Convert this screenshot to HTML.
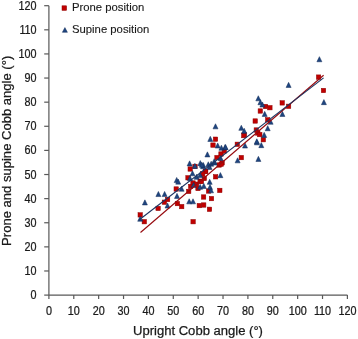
<!DOCTYPE html>
<html><head><meta charset="utf-8"><style>
html,body{margin:0;padding:0;background:#fff;}
svg{display:block;filter:blur(0.3px);}
text{font-family:"Liberation Sans",sans-serif;fill:#1a1a1a;stroke:#1a1a1a;stroke-width:0.25px;}
.tk{font-size:12px;}
.lg{font-size:11.3px;stroke-width:0.12px;}
.ti{font-size:13.05px;}
.sq{fill:#C00000;stroke:#8E0000;stroke-width:0.5;}
.tr{fill:#1E4580;stroke:#132C58;stroke-width:0.5;}
</style></head><body>
<svg width="358" height="339" viewBox="0 0 358 339">
<line x1="48.9" y1="5.7" x2="48.9" y2="295.1" stroke="#585858" stroke-width="1.2"/>
<line x1="48.9" y1="295.1" x2="347.4" y2="295.1" stroke="#585858" stroke-width="1.2"/>
<line x1="44.2" y1="295.10" x2="48.9" y2="295.10" stroke="#585858" stroke-width="1.2"/>
<line x1="48.90" y1="295.1" x2="48.90" y2="299" stroke="#585858" stroke-width="1.2"/>
<line x1="44.2" y1="270.98" x2="48.9" y2="270.98" stroke="#585858" stroke-width="1.2"/>
<line x1="73.78" y1="295.1" x2="73.78" y2="299" stroke="#585858" stroke-width="1.2"/>
<line x1="44.2" y1="246.87" x2="48.9" y2="246.87" stroke="#585858" stroke-width="1.2"/>
<line x1="98.65" y1="295.1" x2="98.65" y2="299" stroke="#585858" stroke-width="1.2"/>
<line x1="44.2" y1="222.75" x2="48.9" y2="222.75" stroke="#585858" stroke-width="1.2"/>
<line x1="123.53" y1="295.1" x2="123.53" y2="299" stroke="#585858" stroke-width="1.2"/>
<line x1="44.2" y1="198.63" x2="48.9" y2="198.63" stroke="#585858" stroke-width="1.2"/>
<line x1="148.40" y1="295.1" x2="148.40" y2="299" stroke="#585858" stroke-width="1.2"/>
<line x1="44.2" y1="174.52" x2="48.9" y2="174.52" stroke="#585858" stroke-width="1.2"/>
<line x1="173.28" y1="295.1" x2="173.28" y2="299" stroke="#585858" stroke-width="1.2"/>
<line x1="44.2" y1="150.40" x2="48.9" y2="150.40" stroke="#585858" stroke-width="1.2"/>
<line x1="198.15" y1="295.1" x2="198.15" y2="299" stroke="#585858" stroke-width="1.2"/>
<line x1="44.2" y1="126.28" x2="48.9" y2="126.28" stroke="#585858" stroke-width="1.2"/>
<line x1="223.03" y1="295.1" x2="223.03" y2="299" stroke="#585858" stroke-width="1.2"/>
<line x1="44.2" y1="102.17" x2="48.9" y2="102.17" stroke="#585858" stroke-width="1.2"/>
<line x1="247.90" y1="295.1" x2="247.90" y2="299" stroke="#585858" stroke-width="1.2"/>
<line x1="44.2" y1="78.05" x2="48.9" y2="78.05" stroke="#585858" stroke-width="1.2"/>
<line x1="272.77" y1="295.1" x2="272.77" y2="299" stroke="#585858" stroke-width="1.2"/>
<line x1="44.2" y1="53.93" x2="48.9" y2="53.93" stroke="#585858" stroke-width="1.2"/>
<line x1="297.65" y1="295.1" x2="297.65" y2="299" stroke="#585858" stroke-width="1.2"/>
<line x1="44.2" y1="29.82" x2="48.9" y2="29.82" stroke="#585858" stroke-width="1.2"/>
<line x1="322.52" y1="295.1" x2="322.52" y2="299" stroke="#585858" stroke-width="1.2"/>
<line x1="44.2" y1="5.70" x2="48.9" y2="5.70" stroke="#585858" stroke-width="1.2"/>
<line x1="347.40" y1="295.1" x2="347.40" y2="299" stroke="#585858" stroke-width="1.2"/>
<text transform="translate(36.6 299.10) scale(0.9 1)" text-anchor="end" class="tk">0</text>
<text transform="translate(48.90 314.8) scale(0.9 1)" text-anchor="middle" class="tk">0</text>
<text transform="translate(36.6 274.98) scale(0.9 1)" text-anchor="end" class="tk">10</text>
<text transform="translate(73.78 314.8) scale(0.9 1)" text-anchor="middle" class="tk">10</text>
<text transform="translate(36.6 250.87) scale(0.9 1)" text-anchor="end" class="tk">20</text>
<text transform="translate(98.65 314.8) scale(0.9 1)" text-anchor="middle" class="tk">20</text>
<text transform="translate(36.6 226.75) scale(0.9 1)" text-anchor="end" class="tk">30</text>
<text transform="translate(123.53 314.8) scale(0.9 1)" text-anchor="middle" class="tk">30</text>
<text transform="translate(36.6 202.63) scale(0.9 1)" text-anchor="end" class="tk">40</text>
<text transform="translate(148.40 314.8) scale(0.9 1)" text-anchor="middle" class="tk">40</text>
<text transform="translate(36.6 178.52) scale(0.9 1)" text-anchor="end" class="tk">50</text>
<text transform="translate(173.28 314.8) scale(0.9 1)" text-anchor="middle" class="tk">50</text>
<text transform="translate(36.6 154.40) scale(0.9 1)" text-anchor="end" class="tk">60</text>
<text transform="translate(198.15 314.8) scale(0.9 1)" text-anchor="middle" class="tk">60</text>
<text transform="translate(36.6 130.28) scale(0.9 1)" text-anchor="end" class="tk">70</text>
<text transform="translate(223.03 314.8) scale(0.9 1)" text-anchor="middle" class="tk">70</text>
<text transform="translate(36.6 106.17) scale(0.9 1)" text-anchor="end" class="tk">80</text>
<text transform="translate(247.90 314.8) scale(0.9 1)" text-anchor="middle" class="tk">80</text>
<text transform="translate(36.6 82.05) scale(0.9 1)" text-anchor="end" class="tk">90</text>
<text transform="translate(272.77 314.8) scale(0.9 1)" text-anchor="middle" class="tk">90</text>
<text transform="translate(36.6 57.93) scale(0.9 1)" text-anchor="end" class="tk">100</text>
<text transform="translate(297.65 314.8) scale(0.9 1)" text-anchor="middle" class="tk">100</text>
<text transform="translate(36.6 33.82) scale(0.9 1)" text-anchor="end" class="tk">110</text>
<text transform="translate(322.52 314.8) scale(0.9 1)" text-anchor="middle" class="tk">110</text>
<text transform="translate(36.6 9.70) scale(0.9 1)" text-anchor="end" class="tk">120</text>
<text transform="translate(347.40 314.8) scale(0.9 1)" text-anchor="middle" class="tk">120</text>
<rect x="138.00" y="212.70" width="4.4" height="4.4" class="sq"/>
<rect x="142.10" y="219.50" width="4.4" height="4.4" class="sq"/>
<rect x="155.90" y="206.20" width="4.4" height="4.4" class="sq"/>
<rect x="162.20" y="200.00" width="4.4" height="4.4" class="sq"/>
<rect x="165.40" y="197.30" width="4.4" height="4.4" class="sq"/>
<rect x="175.20" y="201.40" width="4.4" height="4.4" class="sq"/>
<rect x="179.50" y="204.40" width="4.4" height="4.4" class="sq"/>
<rect x="174.00" y="186.80" width="4.4" height="4.4" class="sq"/>
<rect x="186.50" y="189.20" width="4.4" height="4.4" class="sq"/>
<rect x="197.10" y="203.40" width="4.4" height="4.4" class="sq"/>
<rect x="201.50" y="202.80" width="4.4" height="4.4" class="sq"/>
<rect x="207.30" y="207.10" width="4.4" height="4.4" class="sq"/>
<rect x="190.90" y="219.50" width="4.4" height="4.4" class="sq"/>
<rect x="209.30" y="196.40" width="4.4" height="4.4" class="sq"/>
<rect x="201.40" y="194.80" width="4.4" height="4.4" class="sq"/>
<rect x="206.40" y="188.80" width="4.4" height="4.4" class="sq"/>
<rect x="217.60" y="188.20" width="4.4" height="4.4" class="sq"/>
<rect x="213.40" y="174.60" width="4.4" height="4.4" class="sq"/>
<rect x="188.00" y="166.80" width="4.4" height="4.4" class="sq"/>
<rect x="185.80" y="175.60" width="4.4" height="4.4" class="sq"/>
<rect x="190.80" y="180.80" width="4.4" height="4.4" class="sq"/>
<rect x="194.40" y="182.00" width="4.4" height="4.4" class="sq"/>
<rect x="197.90" y="179.00" width="4.4" height="4.4" class="sq"/>
<rect x="188.50" y="184.30" width="4.4" height="4.4" class="sq"/>
<rect x="195.80" y="186.30" width="4.4" height="4.4" class="sq"/>
<rect x="199.30" y="179.30" width="4.4" height="4.4" class="sq"/>
<rect x="202.10" y="176.30" width="4.4" height="4.4" class="sq"/>
<rect x="203.50" y="169.30" width="4.4" height="4.4" class="sq"/>
<rect x="192.80" y="164.20" width="4.4" height="4.4" class="sq"/>
<rect x="210.80" y="142.90" width="4.4" height="4.4" class="sq"/>
<rect x="213.30" y="137.00" width="4.4" height="4.4" class="sq"/>
<rect x="218.80" y="151.80" width="4.4" height="4.4" class="sq"/>
<rect x="222.10" y="148.80" width="4.4" height="4.4" class="sq"/>
<rect x="214.80" y="155.40" width="4.4" height="4.4" class="sq"/>
<rect x="219.90" y="160.60" width="4.4" height="4.4" class="sq"/>
<rect x="217.00" y="162.80" width="4.4" height="4.4" class="sq"/>
<rect x="235.10" y="142.10" width="4.4" height="4.4" class="sq"/>
<rect x="242.00" y="132.50" width="4.4" height="4.4" class="sq"/>
<rect x="239.10" y="155.40" width="4.4" height="4.4" class="sq"/>
<rect x="263.30" y="104.30" width="4.4" height="4.4" class="sq"/>
<rect x="267.70" y="105.50" width="4.4" height="4.4" class="sq"/>
<rect x="258.10" y="108.80" width="4.4" height="4.4" class="sq"/>
<rect x="280.00" y="100.70" width="4.4" height="4.4" class="sq"/>
<rect x="286.40" y="104.10" width="4.4" height="4.4" class="sq"/>
<rect x="253.00" y="118.80" width="4.4" height="4.4" class="sq"/>
<rect x="265.50" y="117.60" width="4.4" height="4.4" class="sq"/>
<rect x="254.10" y="127.80" width="4.4" height="4.4" class="sq"/>
<rect x="255.60" y="130.80" width="4.4" height="4.4" class="sq"/>
<rect x="316.40" y="74.90" width="4.4" height="4.4" class="sq"/>
<rect x="321.30" y="88.30" width="4.4" height="4.4" class="sq"/>
<rect x="261.10" y="137.50" width="4.4" height="4.4" class="sq"/>
<rect x="257.60" y="132.40" width="4.4" height="4.4" class="sq"/>
<rect x="241.70" y="133.40" width="4.4" height="4.4" class="sq"/>
<rect x="203.10" y="169.00" width="4.4" height="4.4" class="sq"/>
<rect x="200.50" y="171.70" width="4.4" height="4.4" class="sq"/>
<rect x="219.00" y="162.00" width="4.4" height="4.4" class="sq"/>
<path d="M144.90 199.85L147.40 204.95L142.40 204.95Z" class="tr"/>
<path d="M140.20 216.15L142.70 221.25L137.70 221.25Z" class="tr"/>
<path d="M158.40 191.45L160.90 196.55L155.90 196.55Z" class="tr"/>
<path d="M164.60 191.45L167.10 196.55L162.10 196.55Z" class="tr"/>
<path d="M167.50 202.95L170.00 208.05L165.00 208.05Z" class="tr"/>
<path d="M189.20 198.75L191.70 203.85L186.70 203.85Z" class="tr"/>
<path d="M193.00 198.75L195.50 203.85L190.50 203.85Z" class="tr"/>
<path d="M176.70 177.45L179.20 182.55L174.20 182.55Z" class="tr"/>
<path d="M178.20 179.05L180.70 184.15L175.70 184.15Z" class="tr"/>
<path d="M177.00 193.35L179.50 198.45L174.50 198.45Z" class="tr"/>
<path d="M181.60 186.15L184.10 191.25L179.10 191.25Z" class="tr"/>
<path d="M189.60 160.85L192.10 165.95L187.10 165.95Z" class="tr"/>
<path d="M194.90 163.35L197.40 168.45L192.40 168.45Z" class="tr"/>
<path d="M200.30 160.55L202.80 165.65L197.80 165.65Z" class="tr"/>
<path d="M203.00 163.65L205.50 168.75L200.50 168.75Z" class="tr"/>
<path d="M208.30 161.75L210.80 166.85L205.80 166.85Z" class="tr"/>
<path d="M203.30 162.45L205.80 167.55L200.80 167.55Z" class="tr"/>
<path d="M211.20 161.15L213.70 166.25L208.70 166.25Z" class="tr"/>
<path d="M192.50 170.75L195.00 175.85L190.00 175.85Z" class="tr"/>
<path d="M190.00 175.65L192.50 180.75L187.50 180.75Z" class="tr"/>
<path d="M196.60 174.25L199.10 179.35L194.10 179.35Z" class="tr"/>
<path d="M200.10 172.45L202.60 177.55L197.60 177.55Z" class="tr"/>
<path d="M193.60 182.45L196.10 187.55L191.10 187.55Z" class="tr"/>
<path d="M200.10 184.25L202.60 189.35L197.60 189.35Z" class="tr"/>
<path d="M209.70 179.25L212.20 184.35L207.20 184.35Z" class="tr"/>
<path d="M210.00 184.35L212.50 189.45L207.50 189.45Z" class="tr"/>
<path d="M211.00 187.75L213.50 192.85L208.50 192.85Z" class="tr"/>
<path d="M203.80 183.35L206.30 188.45L201.30 188.45Z" class="tr"/>
<path d="M220.40 172.55L222.90 177.65L217.90 177.65Z" class="tr"/>
<path d="M215.50 123.75L218.00 128.85L213.00 128.85Z" class="tr"/>
<path d="M210.30 136.35L212.80 141.45L207.80 141.45Z" class="tr"/>
<path d="M217.70 142.95L220.20 148.05L215.20 148.05Z" class="tr"/>
<path d="M221.40 145.15L223.90 150.25L218.90 150.25Z" class="tr"/>
<path d="M225.10 144.45L227.60 149.55L222.60 149.55Z" class="tr"/>
<path d="M207.40 151.85L209.90 156.95L204.90 156.95Z" class="tr"/>
<path d="M220.60 155.45L223.10 160.55L218.10 160.55Z" class="tr"/>
<path d="M214.70 159.95L217.20 165.05L212.20 165.05Z" class="tr"/>
<path d="M209.60 164.35L212.10 169.45L207.10 169.45Z" class="tr"/>
<path d="M241.30 125.25L243.80 130.35L238.80 130.35Z" class="tr"/>
<path d="M244.20 128.25L246.70 133.35L241.70 133.35Z" class="tr"/>
<path d="M245.00 142.95L247.50 148.05L242.50 148.05Z" class="tr"/>
<path d="M237.60 157.75L240.10 162.85L235.10 162.85Z" class="tr"/>
<path d="M288.60 82.35L291.10 87.45L286.10 87.45Z" class="tr"/>
<path d="M258.30 95.75L260.80 100.85L255.80 100.85Z" class="tr"/>
<path d="M260.40 99.65L262.90 104.75L257.90 104.75Z" class="tr"/>
<path d="M262.40 101.95L264.90 107.05L259.90 107.05Z" class="tr"/>
<path d="M264.70 111.35L267.20 116.45L262.20 116.45Z" class="tr"/>
<path d="M282.40 111.35L284.90 116.45L279.90 116.45Z" class="tr"/>
<path d="M270.60 119.15L273.10 124.25L268.10 124.25Z" class="tr"/>
<path d="M267.70 125.65L270.20 130.75L265.20 130.75Z" class="tr"/>
<path d="M319.40 56.65L321.90 61.75L316.90 61.75Z" class="tr"/>
<path d="M323.90 99.55L326.40 104.65L321.40 104.65Z" class="tr"/>
<path d="M256.90 139.75L259.40 144.85L254.40 144.85Z" class="tr"/>
<path d="M261.30 142.55L263.80 147.65L258.80 147.65Z" class="tr"/>
<path d="M258.40 156.35L260.90 161.45L255.90 161.45Z" class="tr"/>
<path d="M264.20 132.35L266.70 137.45L261.70 137.45Z" class="tr"/>
<path d="M256.80 138.75L259.30 143.85L254.30 143.85Z" class="tr"/>
<path d="M201.80 162.15L204.30 167.25L199.30 167.25Z" class="tr"/>
<path d="M214.20 158.65L216.70 163.75L211.70 163.75Z" class="tr"/>
<path d="M225.60 144.55L228.10 149.65L223.10 149.65Z" class="tr"/>
<line x1="140.5" y1="232.5" x2="323.6" y2="75.3" stroke="#960A0F" stroke-width="1.15"/>
<line x1="139" y1="220.0" x2="323.6" y2="77.9" stroke="#1C3461" stroke-width="1.1"/>
<rect x="62" y="5.8" width="4.6" height="4.6" class="sq"/>
<path d="M64.9 27.6L67.4 32.3L62.4 32.3Z" class="tr"/>
<text x="72" y="11.4" class="lg">Prone position</text>
<text x="72" y="32.5" class="lg">Supine position</text>
<text x="198" y="334.6" text-anchor="middle" class="ti">Upright Cobb angle (°)</text>
<text transform="translate(11.2 150.8) rotate(-90)" x="0" y="0" text-anchor="middle" class="ti">Prone and supine Cobb angle (°)</text>
</svg>
</body></html>
